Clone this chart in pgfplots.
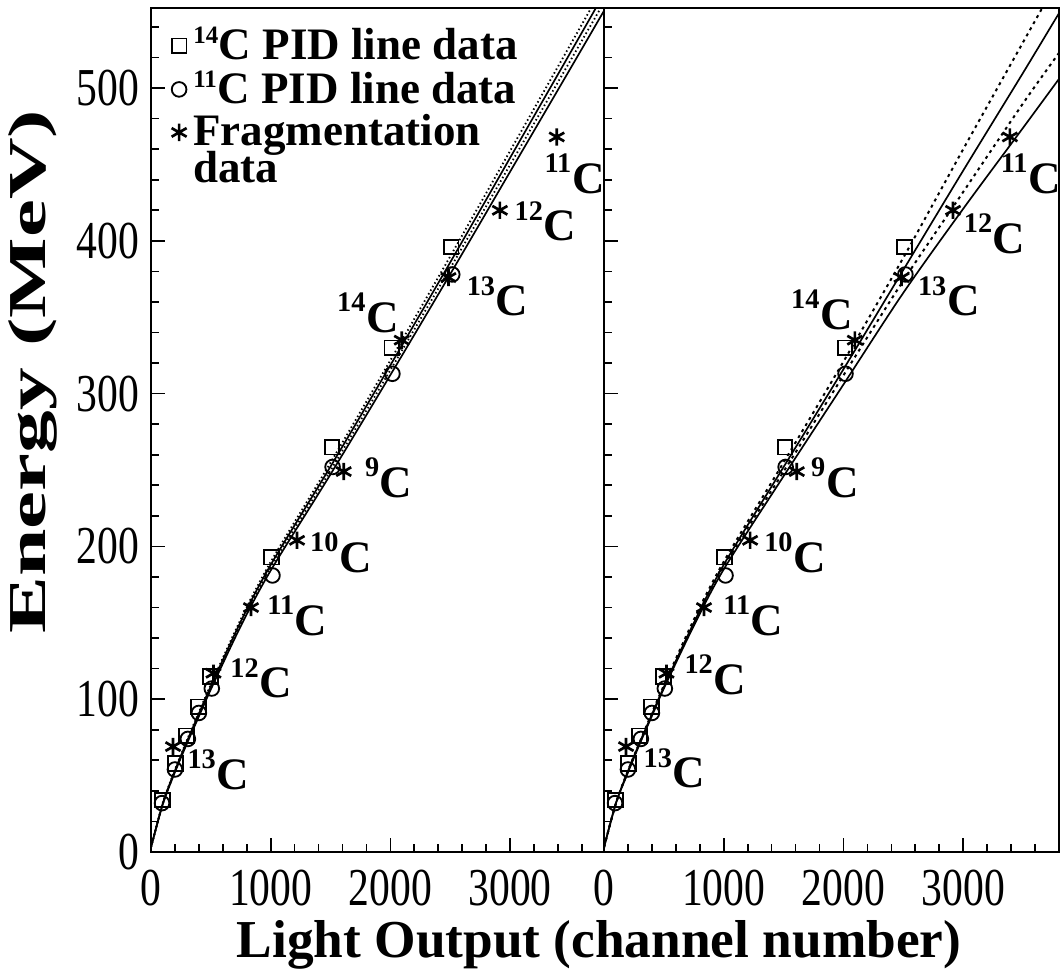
\documentclass[border=0pt]{standalone}
\usepackage{pgfplots}
\pgfplotsset{compat=1.18}
\usepackage{pgfplotstable}
\usepackage{fontspec}
\setmainfont{Liberation Serif}
\usepackage{graphicx}

\newcommand\lab[1]{\fontsize{13.5}{13.5}\selectfont\bfseries\raisebox{6.2pt}{\fontsize{8.5}{8.5}\selectfont #1}\kern0.2pt C}
\newcommand\leg[1]{\raisebox{4.8pt}{\fontsize{7.5}{7.5}\selectfont #1}\kern0.2pt C}
\newcommand\tn[1]{\scalebox{0.78}[1]{#1}}

\pgfplotstableread{
x y
96 34
205 58
296 76
395 95
496 115
1005 193
1512 265
2012 330
2508 396
}\squares

\pgfplotstableread{
x y
92 32
200 54
308 74
400 91
508 107
1015 181
1517 252
2017 313
2517 378
}\circles

\pgfplotstableread{
x y
184 69
522 117
835 160
1220 204
1610 249
2095 335
2485 376
2915 420
3390 468
}\frags

\pgfplotstableread{
x la lb lc ld ra rb rc rd
0 3.0 3.0 3.0 3.0 3 3 3 3
100 32.5 32.2 31.8 31.5 32 32 32 32
200 53.8 53.3 52.7 52.2 53 53 53 52
300 73.1 72.4 71.6 70.9 72 72 72 71
400 91.4 90.5 89.6 88.7 91 90 90 89
500 109.6 108.5 107.5 106.4 109 108 108 107
750 152.3 150.8 149.3 147.8 152 150 150 148
1000 189.8 187.9 186.1 184.2 190 188 187 185
1500 254.8 252.3 249.7 247.2 255 252 249 246
2000 321.8 318.6 315.4 312.2 321 316 312 306
2500 389.8 385.9 382.1 378.2 389 381 374 366
3000 458.8 454.3 449.7 445.2 460 446 432 421
3500 527.8 522.6 517.4 512.2 530 510 490 474
3800 569.4 563.8 558.2 552.6 572 549 523 506
}\lines

\pgfplotsset{
  myax/.style={
    scale only axis, height=253.2pt,
    ymin=0, ymax=552.4, xmin=0,
    axis line style={line width=0.7pt},
    tick align=inside, tick pos=left,
    xtick={0,1000,2000,3000},
    minor xtick={200,400,600,800,1200,1400,1600,1800,2200,2400,2600,2800,3200,3400,3600},
    ytick={0,100,200,300,400,500},
    minor ytick={20,40,60,80,120,140,160,180,220,240,260,280,320,340,360,380,420,440,460,480,520,540},
    major tick length=4.2pt, minor tick length=2.4pt,
    every tick/.style={line width=0.5pt, black},
    xticklabels={\tn{0},\tn{1000},\tn{2000},\tn{3000}},
    tick label style={font=\fontsize{16}{16}\selectfont},
    xticklabel style={yshift=-2pt},
    clip mode=individual,
  },
  sq/.style={only marks, mark=square, mark size=2.2pt, mark options={line width=0.55pt, black}},
  ci/.style={only marks, mark=o, mark size=2.2pt, mark options={line width=0.55pt, black}},
  st/.style={only marks, mark=asterisk, mark size=2.6pt, mark options={line width=0.8pt, black}},
  solidl/.style={black, line width=0.5pt, smooth, forget plot},
  dotl/.style={black, line width=0.55pt, dash pattern=on 0.45pt off 0.8pt, smooth, forget plot},
  dashl/.style={black, line width=0.6pt, dash pattern=on 0.9pt off 1.2pt, smooth, forget plot},
}

\begin{document}
\begin{tikzpicture}
\path[use as bounding box] (-45.3pt,-36pt) rectangle (273.3pt,255.6pt);
\begin{axis}[myax,
  at={(0pt,0pt)}, anchor=south west,
  width=135.9pt, xmax=3785,
  yticklabels={\tn{0},\tn{100},\tn{200},\tn{300},\tn{400},\tn{500}},
  ylabel={\scalebox{1.6}[1]{Energy (MeV)}},
  ylabel style={at={(rel axis cs:-0.2605,0.569)}, anchor=center, font=\fontsize{16}{16}\selectfont\bfseries},
  xlabel={Light Output (channel number)},
  xlabel style={at={(rel axis cs:0.989,0)}, anchor=center, yshift=-27.9pt, font=\fontsize{16}{16}\selectfont\bfseries},
  legend style={at={(rel axis cs:0.044,0.986)}, anchor=north west, draw=none, fill=none,
    font=\fontsize{13.5}{13.5}\selectfont\bfseries, row sep=-2.2pt, inner sep=0pt},
  legend cell align=left,
]
\addplot[dotl] table[x=x,y=la]{\lines};
\addplot[solidl] table[x=x,y=lb]{\lines};
\addplot[dotl] table[x=x,y=lc]{\lines};
\addplot[solidl] table[x=x,y=ld]{\lines};
\addplot[sq] table{\squares};
\addlegendentry{\leg{14} PID line data}
\addplot[ci] table{\circles};
\addlegendentry{\leg{11} PID line data}
\addplot[st] table{\frags};
\addlegendentry{\begin{tabular}[t]{@{}l@{}}Fragmentation\\[-2.5pt]data\end{tabular}}
\node[anchor=base west, inner sep=0pt] at (axis cs:300,41) {\lab{13}};
\node[anchor=base west, inner sep=0pt] at (axis cs:658,101) {\lab{12}};
\node[anchor=base west, inner sep=0pt] at (axis cs:967,142) {\lab{11}};
\node[anchor=base west, inner sep=0pt] at (axis cs:1325,183) {\lab{10}};
\node[anchor=base west, inner sep=0pt] at (axis cs:1783,232) {\lab{9}};
\node[anchor=base west, inner sep=0pt] at (axis cs:1550,340) {\lab{14}};
\node[anchor=base west, inner sep=0pt] at (axis cs:2633,351) {\lab{13}};
\node[anchor=base west, inner sep=0pt] at (axis cs:3033,400) {\lab{12}};
\node[anchor=base west, inner sep=0pt] at (axis cs:3283,431) {\lab{11}};
\end{axis}
\begin{axis}[myax,
  at={(135.9pt,0pt)}, anchor=south west,
  width=136.5pt, xmax=3800,
  yticklabels={},
]
\addplot[dashl] table[x=x,y=ra]{\lines};
\addplot[solidl] table[x=x,y=rb]{\lines};
\addplot[dashl] table[x=x,y=rc]{\lines};
\addplot[solidl] table[x=x,y=rd]{\lines};
\addplot[sq] table{\squares};
\addplot[ci] table{\circles};
\addplot[st] table{\frags};
\node[anchor=base west, inner sep=0pt] at (axis cs:325,42) {\lab{13}};
\node[anchor=base west, inner sep=0pt] at (axis cs:667,103) {\lab{12}};
\node[anchor=base west, inner sep=0pt] at (axis cs:992,142) {\lab{11}};
\node[anchor=base west, inner sep=0pt] at (axis cs:1333,183) {\lab{10}};
\node[anchor=base west, inner sep=0pt] at (axis cs:1725,232) {\lab{9}};
\node[anchor=base west, inner sep=0pt] at (axis cs:1558,342) {\lab{14}};
\node[anchor=base west, inner sep=0pt] at (axis cs:2617,351) {\lab{13}};
\node[anchor=base west, inner sep=0pt] at (axis cs:3000,392) {\lab{12}};
\node[anchor=base west, inner sep=0pt] at (axis cs:3308,431) {\lab{11}};
\end{axis}
\end{tikzpicture}
\end{document}
